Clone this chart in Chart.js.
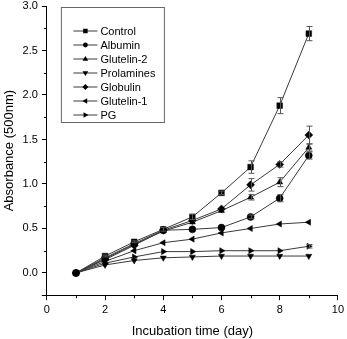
<!DOCTYPE html>
<html>
<head>
<meta charset="utf-8">
<script src="https://cdn.jsdelivr.net/npm/chart.js@4.4.0/dist/chart.umd.min.js"></script>
<style>
html,body{margin:0;padding:0;background:#fff;}
#c{display:block;}
</style>
</head>
<body>
<canvas id="c" width="347" height="339"></canvas>
<script>
const days = [1, 2, 3, 4, 5, 6, 7, 8, 9];
const seriesNames = ['Control', 'Albumin', 'Glutelin-2', 'Prolamines', 'Globulin', 'Glutelin-1', 'PG'];
const control    = [0, 0.19, 0.35, 0.49, 0.63, 0.90, 1.19, 1.88, 2.69];
const albumin    = [0, 0.17, 0.33, 0.48, 0.49, 0.51, 0.63, 0.84, 1.32];
const glutelin2  = [0, 0.16, 0.32, 0.47, 0.57, 0.70, 0.85, 1.02, 1.41];
const prolamines = [0, 0.09, 0.14, 0.17, 0.18, 0.19, 0.19, 0.19, 0.19];
const globulin   = [0, 0.15, 0.31, 0.48, 0.59, 0.72, 0.99, 1.22, 1.55];
const glutelin1  = [0, 0.13, 0.25, 0.34, 0.38, 0.45, 0.50, 0.55, 0.57];
const pg         = [0, 0.11, 0.18, 0.24, 0.24, 0.25, 0.25, 0.25, 0.30];
const controlErr    = [0, 0.01, 0.01, 0.02, 0.03, 0.02, 0.07, 0.09, 0.08];
const albuminErr    = [0, 0, 0, 0, 0, 0, 0.02, 0.04, 0.04];
const glutelin2Err  = [0, 0, 0, 0, 0, 0, 0.03, 0.05, 0.04];
const prolaminesErr = [0, 0, 0, 0, 0, 0, 0, 0, 0];
const globulinErr   = [0, 0, 0, 0, 0, 0, 0.07, 0.03, 0.10];
const glutelin1Err  = [0, 0, 0, 0, 0, 0, 0, 0, 0];
const pgErr         = [0, 0, 0, 0, 0, 0, 0, 0, 0.02];
const xTicks = [0, 2, 4, 6, 8, 10];
const yTicks = [0.0, 0.5, 1.0, 1.5, 2.0, 2.5, 3.0];

const values = [control, albumin, glutelin2, prolamines, globulin, glutelin1, pg];
const errors = [controlErr, albuminErr, glutelin2Err, prolaminesErr, globulinErr, glutelin1Err, pgErr];
const styles = [
  {s:'rect', r:0}, {s:'circle', r:0}, {s:'triangle', r:0}, {s:'triangle', r:180},
  {s:'rectRot', r:0}, {s:'triangle', r:270}, {s:'triangle', r:90}
];
const FONT = '"Liberation Sans", Arial, sans-serif';

const datasets = seriesNames.map((name, k) => ({
  label: name,
  data: days.map((d, i) => ({x: d, y: values[k][i]})),
  err: errors[k],
  borderColor: '#3a3a3a',
  borderWidth: 1,
  backgroundColor: '#000',
  pointBackgroundColor: '#000',
  pointBorderColor: '#000',
  pointBorderWidth: 0.5,
  pointStyle: styles[k].s,
  pointRotation: styles[k].r,
  pointRadius: styles[k].s === 'rect' ? 4 : (styles[k].s === 'rectRot' ? 4 : 3.5),
  tension: 0,
  fill: false
}));

function drawMarker(ctx, style, rot, x, y, r) {
  ctx.save();
  ctx.translate(x, y);
  ctx.rotate(rot * Math.PI / 180);
  ctx.beginPath();
  if (style === 'rect') {
    const s = r * 0.75;
    ctx.rect(-s, -s, 2 * s, 2 * s);
  } else if (style === 'circle') {
    ctx.arc(0, 0, r * 0.8, 0, Math.PI * 2);
  } else if (style === 'rectRot') {
    ctx.moveTo(0, -r); ctx.lineTo(r, 0); ctx.lineTo(0, r); ctx.lineTo(-r, 0); ctx.closePath();
  } else {
    ctx.moveTo(0, -r); ctx.lineTo(r * 0.95, r * 0.6); ctx.lineTo(-r * 0.95, r * 0.6); ctx.closePath();
  }
  ctx.fillStyle = '#000';
  ctx.fill();
  ctx.restore();
}

const extras = {
  id: 'extras',
  afterDatasetsDraw(chart) {
    const ctx = chart.ctx;
    const ys = chart.scales.y;
    ctx.save();
    ctx.strokeStyle = '#555';
    ctx.lineWidth = 1;
    chart.data.datasets.forEach((ds, k) => {
      const meta = chart.getDatasetMeta(k);
      ds.data.forEach((p, i) => {
        const e = ds.err[i];
        if (!e) return;
        const x = Math.round(meta.data[i].x) + 0.5;
        const t = ys.getPixelForValue(p.y + e);
        const b = ys.getPixelForValue(p.y - e);
        ctx.beginPath();
        ctx.moveTo(x, t); ctx.lineTo(x, b);
        ctx.moveTo(x - 3, t); ctx.lineTo(x + 3, t);
        ctx.moveTo(x - 3, b); ctx.lineTo(x + 3, b);
        ctx.stroke();
      });
    });
    ctx.restore();
  },
  afterDraw(chart) {
    const ctx = chart.ctx;
    const xs = chart.scales.x, ys = chart.scales.y;
    const ca = chart.chartArea;
    ctx.save();
    ctx.strokeStyle = '#000';
    ctx.lineWidth = 1;
    // minor ticks
    ctx.beginPath();
    for (let v = 1; v < 10; v += 2) {
      const x = Math.round(xs.getPixelForValue(v)) + 0.5;
      ctx.moveTo(x, ca.bottom); ctx.lineTo(x, ca.bottom + 3);
    }
    for (let v = 0.25; v < 3; v += 0.5) {
      const y = Math.round(ys.getPixelForValue(v)) + 0.5;
      ctx.moveTo(ca.left, y); ctx.lineTo(ca.left - 3, y);
    }
    ctx.stroke();
    // legend
    const bx = ca.left + 14.5, by = ca.top + 1.5, bw = 103, bh = 115;
    ctx.strokeStyle = '#666';
    ctx.strokeRect(bx, by, bw, bh);
    ctx.font = '11px ' + FONT;
    ctx.textBaseline = 'middle';
    ctx.textAlign = 'left';
    chart.data.datasets.forEach((ds, k) => {
      const y = by + 23.5 + k * 14;
      ctx.strokeStyle = '#3a3a3a';
      ctx.beginPath();
      ctx.moveTo(bx + 12, y); ctx.lineTo(bx + 36, y);
      ctx.stroke();
      drawMarker(ctx, styles[k].s, styles[k].r, bx + 24, y, 3);
      ctx.fillStyle = '#000';
      ctx.fillText(ds.label, bx + 39, y + 0.5);
    });
    ctx.restore();
  }
};

new Chart(document.getElementById('c'), {
  type: 'line',
  data: { datasets },
  plugins: [extras],
  options: {
    responsive: false,
    animation: false,
    devicePixelRatio: 1,
    layout: { padding: { top: 6, right: 4, left: 2, bottom: 0 } },
    plugins: { legend: { display: false }, tooltip: { enabled: false } },
    scales: {
      x: {
        type: 'linear', min: 0, max: 10,
        afterBuildTicks(s) { s.ticks = xTicks.map(v => ({value: v})); },
        ticks: { font: { family: FONT, size: 11 }, color: '#000', padding: 3, maxRotation: 0 },
        grid: { drawOnChartArea: false, tickLength: 5, color: '#000' },
        border: { color: '#000', width: 1 },
        title: { display: true, text: 'Incubation time (day)', font: { family: FONT, size: 13 }, color: '#000', padding: { top: 4, bottom: 0 } }
      },
      y: {
        type: 'linear', min: -0.25, max: 3.0,
        afterBuildTicks(s) { s.ticks = [{value: -0.25}].concat(yTicks.map(v => ({value: v}))); },
        afterFit(s) { s.paddingTop = 0; },
        ticks: {
          font: { family: FONT, size: 11 }, color: '#000', padding: 4,
          callback: v => (v < 0 ? '' : v.toFixed(1))
        },
        grid: { drawOnChartArea: false, tickLength: 5, color: '#000' },
        border: { color: '#000', width: 1 },
        title: { display: true, text: 'Absorbance (500nm)', font: { family: FONT, size: 13 }, color: '#000', padding: { top: 0, bottom: 1 } }
      }
    }
  }
});
</script>
</body>
</html>
